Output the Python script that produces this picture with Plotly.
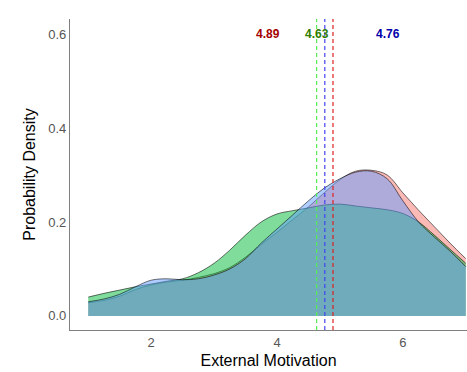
import plotly.graph_objects as go

x_grid = [1.0, 1.25, 1.5, 1.75, 2.0, 2.25, 2.5, 2.75, 3.0, 3.25, 3.5, 3.75, 4.0,
          4.25, 4.5, 4.75, 5.0, 5.25, 5.5, 5.75, 6.0, 6.25, 6.5, 6.75, 7.0]

dens_red = [0.028, 0.033, 0.042, 0.056, 0.066, 0.072, 0.076, 0.082, 0.090, 0.103, 0.125, 0.152, 0.178,
            0.205, 0.232, 0.262, 0.290, 0.308, 0.310, 0.300, 0.262, 0.225, 0.190, 0.155, 0.122]
dens_green = [0.040, 0.048, 0.055, 0.062, 0.068, 0.074, 0.079, 0.092, 0.112, 0.140, 0.172, 0.200, 0.217,
              0.224, 0.230, 0.236, 0.238, 0.234, 0.230, 0.226, 0.218, 0.200, 0.172, 0.142, 0.112]
dens_blue = [0.030, 0.036, 0.046, 0.062, 0.076, 0.079, 0.077, 0.079, 0.087, 0.100, 0.122, 0.155, 0.185,
             0.215, 0.245, 0.272, 0.292, 0.306, 0.308, 0.292, 0.245, 0.200, 0.168, 0.138, 0.105]

means = [4.89, 4.63, 4.76]
mean_line_colors = ["#DD2222", "#55EE55", "#4444EE"]
label_x = [3.86, 4.63, 5.76]
label_colors = ["#A50000", "#2E7D00", "#0000AA"]
fill_colors = ["rgba(248,118,109,0.5)", "rgba(0,186,56,0.5)", "rgba(97,156,255,0.5)"]

fig = go.Figure()
for ys, fc in zip([dens_red, dens_green, dens_blue], fill_colors):
    fig.add_trace(go.Scatter(x=x_grid, y=ys, mode="lines", fill="tozeroy",
                             fillcolor=fc, line=dict(color="rgba(0,0,0,0.8)", width=0.7, shape="spline"),
                             hoverinfo="skip", showlegend=False))

for m, c in zip(means, mean_line_colors):
    fig.add_shape(type="line", x0=m, x1=m, y0=0, y1=1, xref="x", yref="paper",
                  line=dict(color=c, width=1.2, dash="4px,3px"))

for lx, m, c in zip(label_x, means, label_colors):
    fig.add_annotation(x=lx, y=0.6, text="<b>%.2f</b>" % m, showarrow=False,
                       font=dict(color=c, size=12, family="Liberation Sans, Arial"))

fig.update_layout(
    width=467, height=372,
    margin=dict(l=70, r=0, t=19, b=42),
    paper_bgcolor="white", plot_bgcolor="white",
    font=dict(family="Liberation Sans, Arial"),
    xaxis=dict(range=[0.71, 7.02], tickvals=[2, 4, 6], ticktext=["2", "4", "6"],
               showgrid=False, zeroline=False, showline=True, linecolor="#808080", linewidth=1.3,
               ticks="", tickfont=dict(size=13, color="#555555"),
               title=dict(text="External Motivation", font=dict(size=16, color="black"), standoff=6)),
    yaxis=dict(range=[-0.03, 0.632], tickvals=[0, 0.2, 0.4, 0.6], ticktext=["0.0", "0.2", "0.4", "0.6"],
               showgrid=False, zeroline=False, showline=True, linecolor="#808080", linewidth=1.3,
               ticks="", tickfont=dict(size=13, color="#555555"),
               title=dict(text="Probability Density", font=dict(size=16, color="black"), standoff=8)),
)

fig.write_html("out.html")
